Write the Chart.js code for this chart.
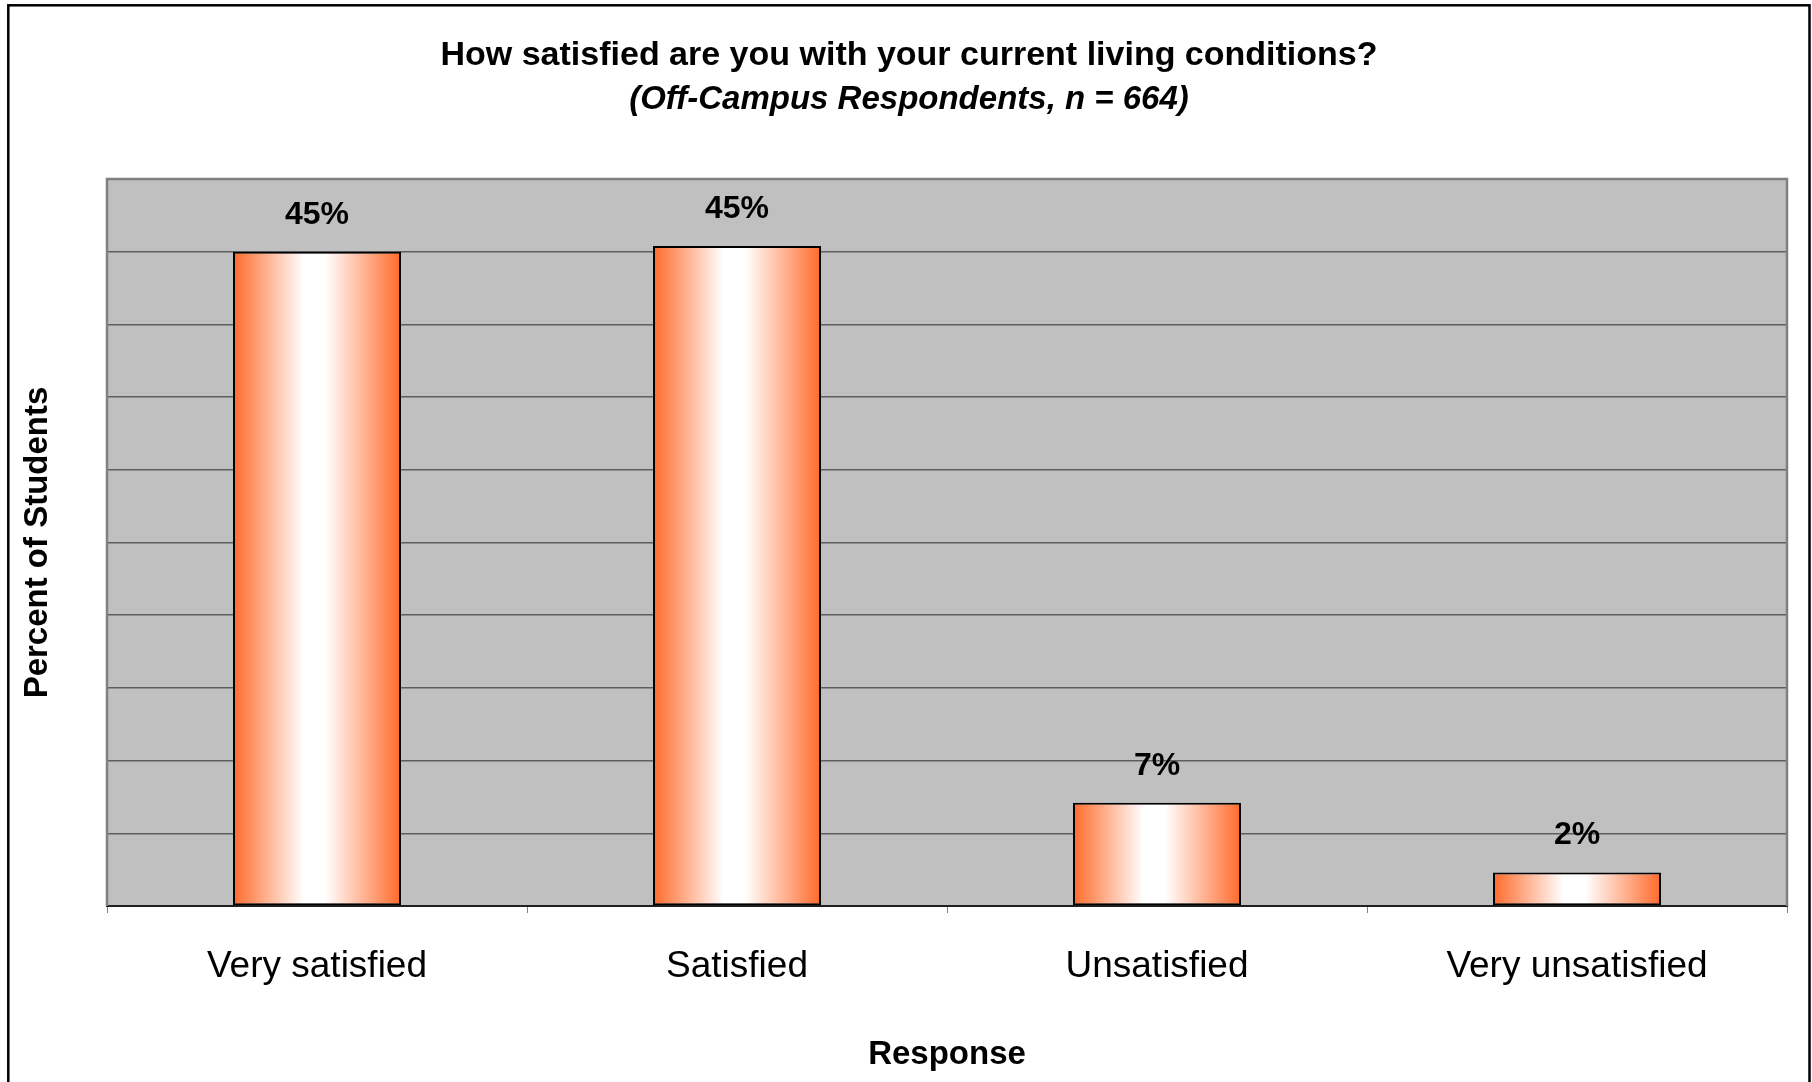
<!DOCTYPE html>
<html>
<head>
<meta charset="utf-8">
<title>Living conditions satisfaction</title>
<script src="https://cdn.jsdelivr.net/npm/chart.js@4/dist/chart.umd.min.js"></script>
<style>
  html, body { margin: 0; padding: 0; background: #ffffff; }
  #wrap { width: 1812px; height: 1082px; }
</style>
</head>
<body>
<div id="wrap"><canvas id="chart" width="1812" height="1082"></canvas></div>
<script>
// Survey responses (percent of off-campus students)
const categories = ['Very satisfied', 'Satisfied', 'Unsatisfied', 'Very unsatisfied'];
const percentValues = [45.0, 45.4, 7.1, 2.3];
const yTicks = [0, 5, 10, 15, 20, 25, 30, 35, 40, 45, 50];

const FONT = "'Liberation Sans', Arial, Helvetica, sans-serif";
const BAR_FRACTION = 0.4;

// Horizontal orange-white-orange fill for each bar
function barGradient(context) {
  const chart = context.chart;
  const xs = chart.scales.x;
  if (!chart.chartArea || !xs) return '#FF6A2B';
  const cx = xs.getPixelForValue(context.dataIndex);
  const half = (xs.width / categories.length) * BAR_FRACTION / 2;
  const g = chart.ctx.createLinearGradient(cx - half, 0, cx + half, 0);
  g.addColorStop(0, '#FF6A2B');
  g.addColorStop(0.42, '#FFFFFF');
  g.addColorStop(0.55, '#FFFFFF');
  g.addColorStop(1, '#FF6A2B');
  return g;
}

// Grey plot background, plot frame, outer frame and value labels
const decorations = {
  id: 'decorations',
  beforeDraw(chart) {
    const { ctx, chartArea: a } = chart;
    ctx.save();
    ctx.fillStyle = '#C0C0C0';
    ctx.fillRect(a.left, a.top, a.right - a.left, a.bottom - a.top);
    ctx.restore();
  },
  beforeDatasetsDraw(chart) {
    const { ctx, chartArea: a } = chart;
    ctx.save();
    ctx.strokeStyle = '#808080';
    ctx.lineWidth = 2.5;
    ctx.beginPath();
    ctx.moveTo(a.left, a.bottom);
    ctx.lineTo(a.left, a.top);
    ctx.lineTo(a.right, a.top);
    ctx.lineTo(a.right, a.bottom);
    ctx.stroke();
    ctx.restore();
  },
  afterDatasetsDraw(chart) {
    const { ctx } = chart;
    const meta = chart.getDatasetMeta(0);
    ctx.save();
    ctx.fillStyle = '#000000';
    ctx.font = 'bold 32px ' + FONT;
    ctx.textAlign = 'center';
    ctx.textBaseline = 'middle';
    meta.data.forEach((bar, i) => {
      const v = chart.data.datasets[0].data[i];
      ctx.fillText(Math.round(v) + '%', bar.x, bar.y - 37);
    });
    ctx.restore();
  },
  afterDraw(chart) {
    const { ctx } = chart;
    ctx.save();
    ctx.strokeStyle = '#000000';
    ctx.lineWidth = 2.5;
    ctx.strokeRect(8.3, 5.3, 1801.2, 1200);
    ctx.restore();
  }
};

new Chart(document.getElementById('chart'), {
  type: 'bar',
  data: {
    labels: categories,
    datasets: [{
      data: percentValues,
      backgroundColor: barGradient,
      borderColor: '#000000',
      borderWidth: 2,
      borderSkipped: false,
      categoryPercentage: 1,
      barPercentage: BAR_FRACTION
    }]
  },
  options: {
    responsive: false,
    animation: false,
    devicePixelRatio: 1,
    layout: { padding: { left: 31, right: 25, top: 0, bottom: 0 } },
    plugins: {
      legend: { display: false },
      tooltip: { enabled: false },
      title: {
        display: true,
        text: 'How satisfied are you with your current living conditions?',
        color: '#000000',
        font: { family: FONT, size: 34, weight: 'bold' },
        padding: { top: 35.6, bottom: 3.3 }
      },
      subtitle: {
        display: true,
        text: '(Off-Campus Respondents, n = 664)',
        color: '#000000',
        font: { family: FONT, size: 33, weight: 'bold', style: 'italic' },
        padding: { top: 0, bottom: 59.7 }
      }
    },
    scales: {
      x: {
        afterFit(scale) { scale.height = 176; },
        grid: {
          offset: true,
          drawOnChartArea: false,
          drawTicks: true,
          tickLength: 7,
          color: '#808080',
          lineWidth: 1
        },
        border: { display: true, color: '#202020', width: 2 },
        ticks: {
          color: '#000000',
          font: { family: FONT, size: 37 },
          padding: 32,
          maxRotation: 0
        },
        title: {
          display: true,
          text: 'Response',
          color: '#000000',
          font: { family: FONT, size: 33, weight: 'bold' },
          padding: { top: 0, bottom: 7 }
        }
      },
      y: {
        min: yTicks[0],
        max: yTicks[yTicks.length - 1],
        afterFit(scale) { scale.width = 76; },
        afterBuildTicks(scale) { scale.ticks = yTicks.map(v => ({ value: v })); },
        grid: { color: '#5E5E5E', lineWidth: 1.5, drawTicks: false },
        border: { display: false },
        ticks: { display: false },
        title: {
          display: true,
          text: 'Percent of Students',
          color: '#000000',
          font: { family: FONT, size: 33, weight: 'bold' },
          padding: { top: -12.8, bottom: 0 }
        }
      }
    }
  },
  plugins: [decorations]
});
</script>
</body>
</html>
